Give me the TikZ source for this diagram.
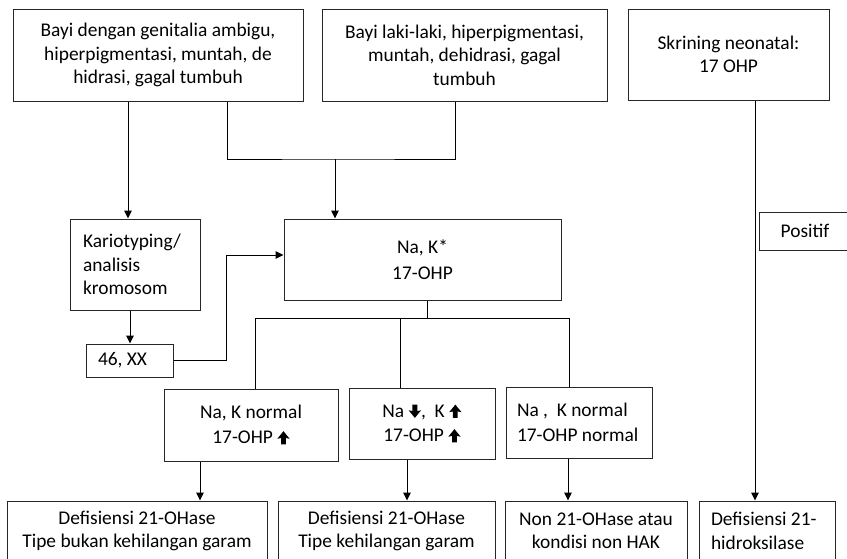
\documentclass[tikz,border=0pt]{standalone}
\usepackage{fontspec}
\setmainfont{Carlito}
\usetikzlibrary{arrows.meta}
\newcommand{\upar}{\tikz[baseline=0pt,x=1pt,y=1pt]{\fill[black] (-2.4,-0.5) -- (2.4,-0.5) -- (2.4,6) -- (6.2,5.2) -- (0,12.8) -- (-6.2,5.2) -- (-2.4,6) -- cycle;}}
\newcommand{\dnar}{\tikz[baseline=0pt,x=1pt,y=1pt]{\fill[black] (-2.4,12.8) -- (2.4,12.8) -- (2.4,6.3) -- (6.2,7.1) -- (0,-0.5) -- (-6.2,7.1) -- (-2.4,6.3) -- cycle;}}
\tikzset{
  box/.style={draw=black!85, line width=1pt, rectangle, inner sep=0pt, align=center,
    font=\fontsize{19.4}{23.4}\selectfont\frenchspacing,
    execute at begin node={\spaceskip=0pt\relax\xspaceskip=0pt\relax}},
  conn/.style={draw=black, line width=1pt},
  arr/.style={conn, -{Triangle[length=8pt,width=7.5pt]}},
}
\begin{document}
\begin{tikzpicture}[x=1pt,y=1pt]
\clip (0,0) rectangle (847,-558);
\fill[white] (0,0) rectangle (847,-558);
% top row
\node[box, minimum width=290, minimum height=92] (a) at (158,-55)
  {Bayi dengan genitalia ambigu,\\hiperpigmentasi, muntah, de\\hidrasi, gagal tumbuh};
\node[box, minimum width=285, minimum height=92] (b) at (464.5,-55)
  {Bayi laki-laki, hiperpigmentasi,\\muntah, dehidrasi, gagal\\tumbuh};
\node[box, minimum width=201, minimum height=91] (c) at (728.5,-54.5)
  {Skrining neonatal:\\17 OHP};
% second row
\node[box, minimum width=130, minimum height=91, text width=104, inner xsep=13, align=flush left] (k) at (135,-264.5)
  {Kariotyping/\\analisis\\kromosom};
\node[box, minimum width=87, minimum height=33, text width=63, inner xsep=12, align=flush left] (x46) at (129.5,-360.5)
  {46, XX};
\node[box, minimum width=277, minimum height=81, font=\fontsize{19.4}{26.5}\selectfont] (n) at (422.5,-259.5)
  {Na, K*\\17-OHP};
\node[box, minimum width=92, minimum height=38] (p) at (805,-231) {Positif};
% third row
\node[box, minimum width=174, minimum height=72, font=\fontsize{19.4}{25}\selectfont\frenchspacing] (d) at (251,-425)
  {Na, K normal\\17-OHP \upar};
\node[box, minimum width=146, minimum height=71, font=\fontsize{19.4}{24.5}\selectfont\frenchspacing] (e) at (422,-423.5)
  {Na \dnar,~ K \upar\\17-OHP \upar};
\node[box, minimum width=146, minimum height=71, text width=124, inner xsep=11, align=flush left,
  font=\fontsize{19.4}{24.5}\selectfont\frenchspacing] (f) at (579,-422.5)
  {Na ,~ K normal\\17-OHP normal};
% bottom row
\node[box, minimum width=260, minimum height=60] (g) at (137,-531)
  {Defisiensi 21-OHase\\Tipe bukan kehilangan garam};
\node[box, minimum width=217, minimum height=60] (h) at (386.5,-531)
  {Defisiensi 21-OHase\\Tipe kehilangan garam};
\node[box, minimum width=182, minimum height=60] (i) at (596,-531)
  {Non 21-OHase atau\\kondisi non HAK};
\node[box, minimum width=136, minimum height=60, text width=112, inner xsep=12, align=flush left] (j) at (767,-531)
  {Defisiensi 21-\\hidroksilase};
% helper coordinates
\coordinate (xa) at (128,0);
\coordinate (xk) at (130,0);
\coordinate (ja) at (227,0);
\coordinate (jm) at (335,-159);
\coordinate (jb) at (455,0);
\coordinate (jx) at (226,-255);
\coordinate (jn) at (427,-318);
\coordinate (bl) at (255,-318);
\coordinate (bm) at (400,-318);
\coordinate (br) at (569,-318);
\coordinate (xd) at (200,0);
\coordinate (xe) at (407,0);
\coordinate (xf) at (568,0);
\coordinate (xc) at (755,0);
% connectors
\draw[arr] (a.south -| xa) -- (k.north -| xa);
\draw[conn] (a.south -| ja) |- (jm) -| (b.south -| jb);
\draw[arr] (jm) -- (n.north -| jm);
\draw[arr] (k.south -| xk) -- (x46.north -| xk);
\draw[arr] (x46.east) -| (jx) -- (n.west |- jx);
\draw[conn] (n.south -| jn) -- (jn);
\draw[conn] (d.north -| bl) -- (bl) -- (br) -- (f.north -| br);
\draw[conn] (e.north -| bm) -- (bm);
\draw[arr] (d.south -| xd) -- (g.north -| xd);
\draw[arr] (e.south -| xe) -- (h.north -| xe);
\draw[arr] (f.south -| xf) -- (i.north -| xf);
\draw[arr] (c.south -| xc) -- (j.north -| xc);
\end{tikzpicture}
\end{document}
